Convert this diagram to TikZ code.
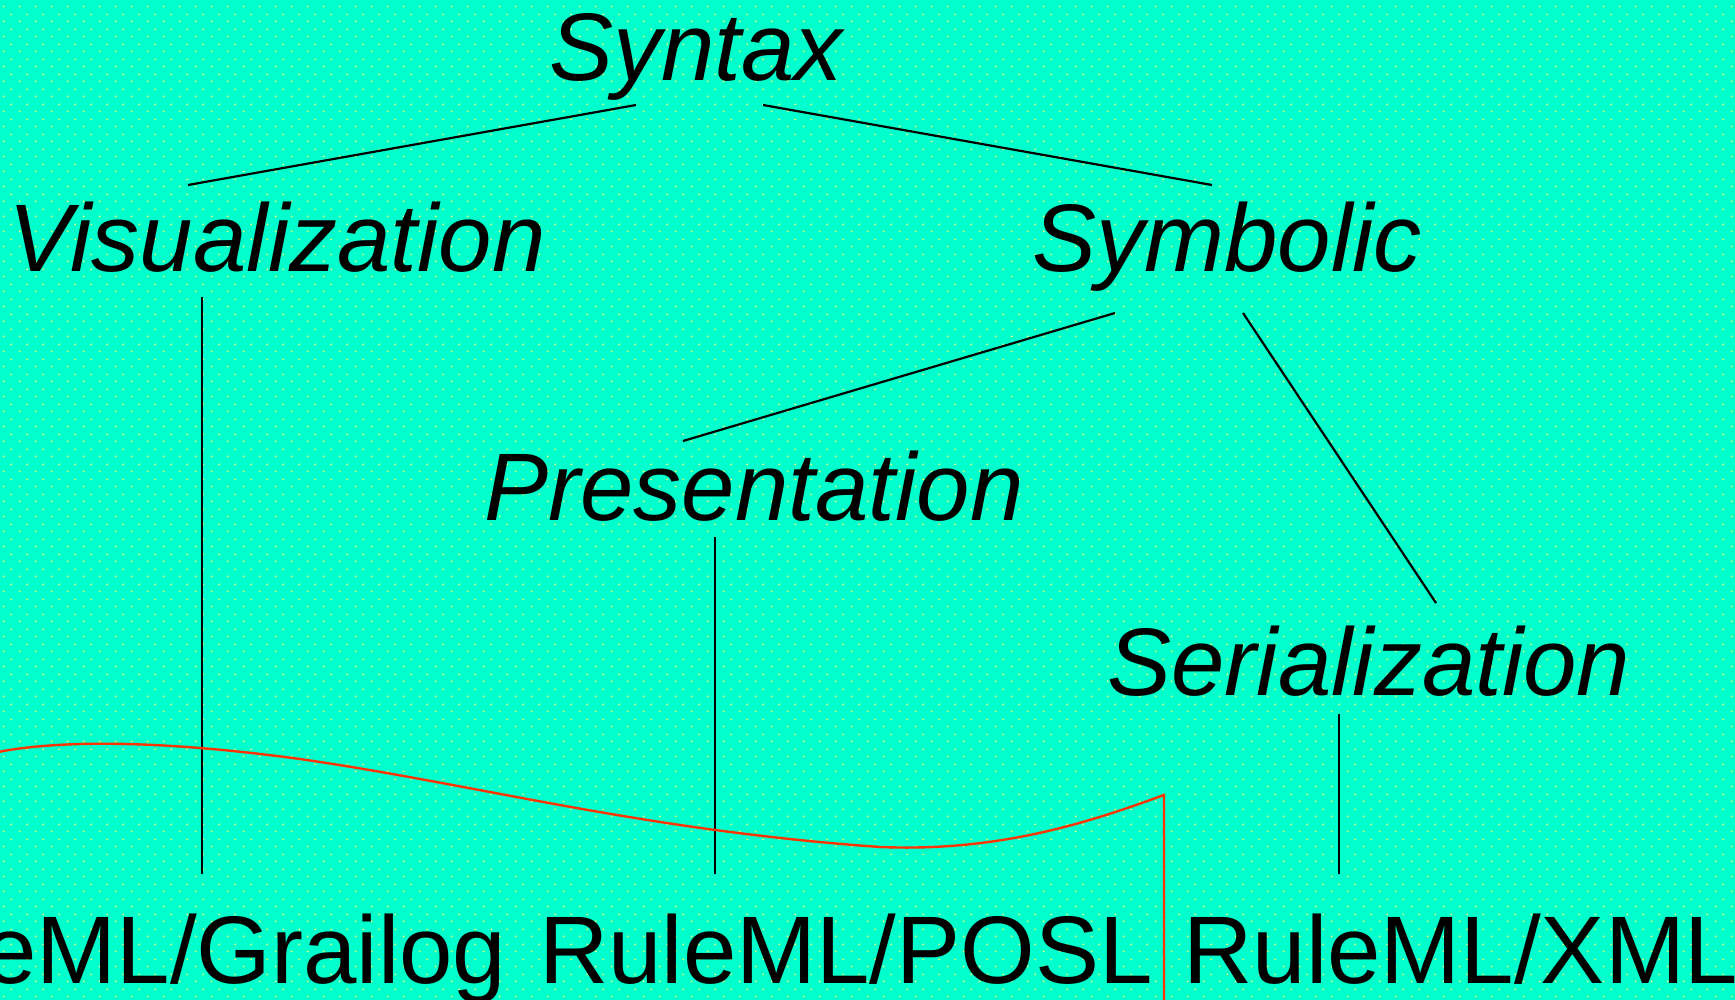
\documentclass[tikz,border=0pt]{standalone}
\usepackage{fontspec}
\setmainfont{Liberation Sans}
\usetikzlibrary{patterns.meta}
\definecolor{bgc}{RGB}{0,255,204}
\definecolor{dotc}{RGB}{235,255,110}
\definecolor{redc}{RGB}{255,51,0}
\tikzdeclarepattern{
  name=ydots,
  type=colored,
  bottom left={(0pt,0pt)},
  top right={(7.75pt,7.5pt)},
  tile size={(7.75pt,7.5pt)},
  code={
    \tikzset{x=1pt,y=1pt}
    \fill[dotc] (1.9,1.9) circle [radius=0.55];
    \fill[dotc] (5.8,5.65) circle [radius=0.55];
  }
}
\tikzset{
  lbl/.style={anchor=base, inner sep=0pt, font=\fontsize{48}{58}\selectfont},
  ilbl/.style={lbl, font=\fontsize{48}{58}\selectfont\itshape},
  conn/.style={draw=black, line width=1.1pt},
  redline/.style={draw=redc, line width=1.2pt, line join=miter}
}
\begin{document}
\begin{tikzpicture}[x=0.5pt,y=-0.5pt]
\useasboundingbox (0,0) rectangle (1735,1000);
\fill[bgc] (0,0) rectangle (1735,1000);
\fill[pattern=ydots] (0,0) rectangle (1735,1000);
\clip (0,0) rectangle (1735,1000);

% labels
\node[ilbl] (syn) at (696,81) {Syntax};
\node[ilbl] (vis) at (277,272) {Visualization};
\node[ilbl] (sym) at (1227,272) {Symbolic};
\node[ilbl] (pre) at (754,520) {Presentation};
\node[ilbl] (ser) at (1369,695) {Serialization};
\node[lbl] (gra) at (173,983) {RuleML/Grailog};
\node[lbl] (posl) at (846,983) {RuleML/POSL};
\node[lbl] (xml) at (1461,983) {RuleML/XML};

% connector end points
\coordinate (synL) at (636,105);
\coordinate (synR) at (763,105);
\coordinate (visT) at (188,185);
\coordinate (symT) at (1212,185);
\coordinate (visB) at (202,297);
\coordinate (graT) at (202,874);
\coordinate (symL) at (1115,313);
\coordinate (symR) at (1243,313);
\coordinate (preT) at (683,441);
\coordinate (serT) at (1436,603);
\coordinate (preB) at (715,537);
\coordinate (poslT) at (715,874);
\coordinate (serB) at (1339,714);
\coordinate (xmlT) at (1339,874);

\draw[conn] (synL) -- (visT);
\draw[conn] (synR) -- (symT);
\draw[conn] (visB) -- (graT);
\draw[conn] (symL) -- (preT);
\draw[conn] (symR) -- (serT);
\draw[conn] (preB) -- (poslT);
\draw[conn] (serB) -- (xmlT);

% red boundary curve
\coordinate (redS) at (-2,752);
\coordinate (redC) at (1164,795);
\coordinate (redE) at (1164,1002);
\draw[redline] (redS) .. controls (60,740) and (160,740) .. (300,759)
  .. controls (480,785) and (640,830) .. (880,847)
  .. controls (1000,852) and (1090,822) .. (redC) -- (redE);
\end{tikzpicture}
\end{document}
